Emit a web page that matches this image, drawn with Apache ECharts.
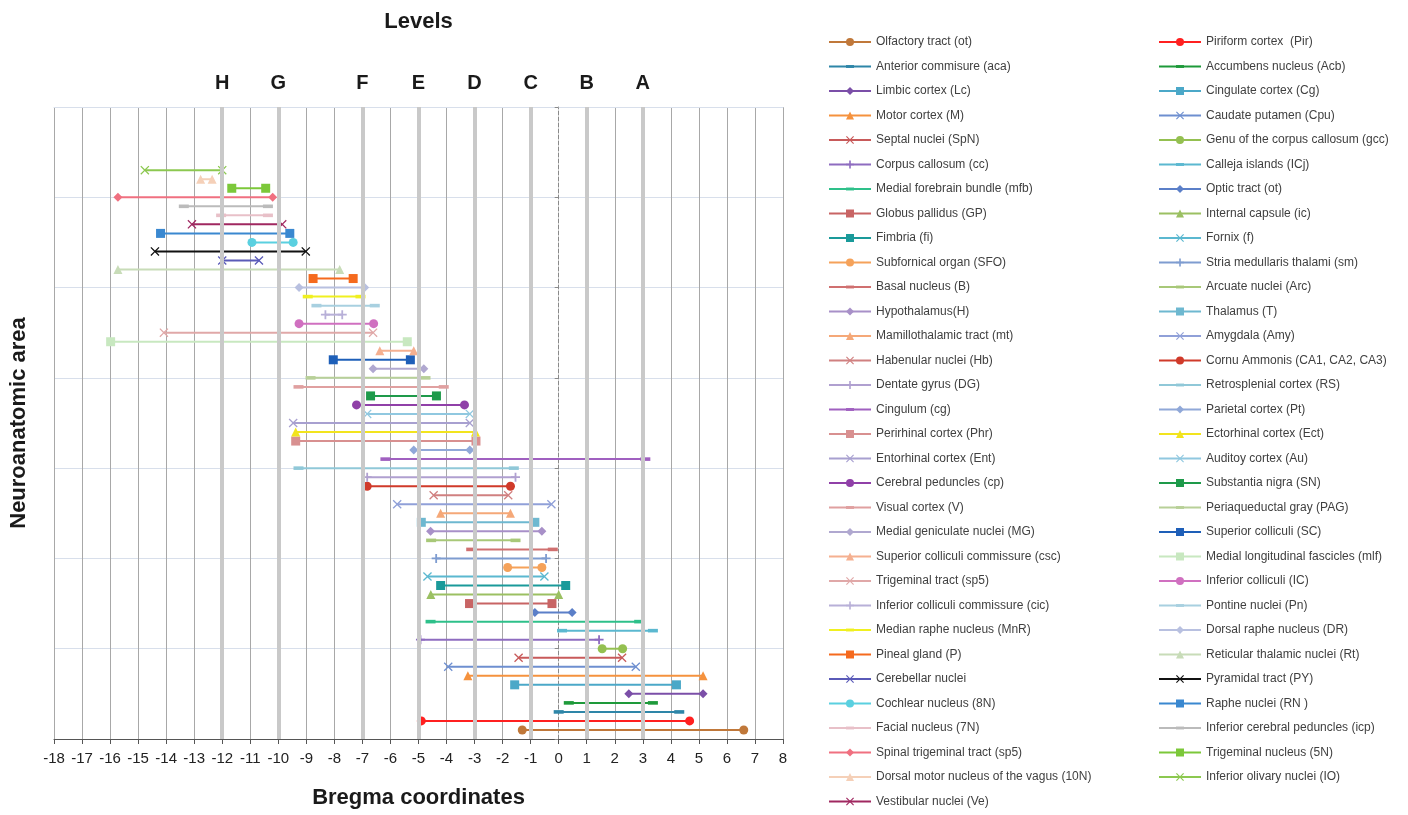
<!DOCTYPE html>
<html>
<head>
<meta charset="utf-8">
<script src="https://cdn.jsdelivr.net/npm/echarts@6/dist/echarts.min.js"></script>
<style>
html,body{margin:0;padding:0;background:#fff;}
#chart{width:1408px;height:815px;}
</style>
</head>
<body>
<div id="chart"></div>
<script>
// ---------------- DATA ----------------
const areaNames = [
  "Olfactory tract (ot)", "Piriform cortex  (Pir)", "Anterior commisure (aca)", "Accumbens nucleus (Acb)",
  "Limbic cortex (Lc)", "Cingulate cortex (Cg)", "Motor cortex (M)", "Caudate putamen (Cpu)",
  "Septal nuclei (SpN)", "Genu of the corpus callosum (gcc)", "Corpus callosum (cc)", "Calleja islands (ICj)",
  "Medial forebrain bundle (mfb)", "Optic tract (ot)", "Globus pallidus (GP)", "Internal capsule (ic)",
  "Fimbria (fi)", "Fornix (f)", "Subfornical organ (SFO)", "Stria medullaris thalami (sm)",
  "Basal nucleus (B)", "Arcuate nuclei (Arc)", "Hypothalamus(H)", "Thalamus (T)",
  "Mamillothalamic tract (mt)", "Amygdala (Amy)", "Habenular nuclei (Hb)", "Cornu Ammonis (CA1, CA2, CA3)",
  "Dentate gyrus (DG)", "Retrosplenial cortex (RS)", "Cingulum (cg)", "Parietal cortex (Pt)",
  "Perirhinal cortex (Phr)", "Ectorhinal cortex (Ect)", "Entorhinal cortex (Ent)", "Auditoy cortex (Au)",
  "Cerebral peduncles (cp)", "Substantia nigra (SN)", "Visual cortex (V)", "Periaqueductal gray (PAG)",
  "Medial geniculate nuclei (MG)", "Superior colliculi (SC)", "Superior colliculi commissure (csc)", "Medial longitudinal fascicles (mlf)",
  "Trigeminal tract (sp5)", "Inferior colliculi (IC)", "Inferior colliculi commissure (cic)", "Pontine nuclei (Pn)",
  "Median raphe nucleus (MnR)", "Dorsal raphe nucleus (DR)", "Pineal gland (P)", "Reticular thalamic nuclei (Rt)",
  "Cerebellar nuclei", "Pyramidal tract (PY)", "Cochlear nucleus (8N)", "Raphe nuclei (RN )",
  "Facial nucleus (7N)", "Inferior cerebral peduncles (icp)", "Spinal trigeminal tract (sp5)", "Trigeminal nucleus (5N)",
  "Dorsal motor nucleus of the vagus (10N)", "Inferior olivary nuclei (IO)", "Vestibular nuclei (Ve)"
];
// Bregma coordinate where each area starts
const startBregma = [
  -1.3, -4.9, 0.0, 0.36, 2.5, -1.57, -3.24, -3.94,
  -1.43, 1.55, -4.93, 0.12, -4.57, -0.85, -3.18, -4.56,
  -4.21, -4.68, -1.82, -4.37, -3.12, -4.55, -4.57, -4.9,
  -4.21, -5.76, -4.46, -6.83, -6.83, -9.28, -6.18, -5.17,
  -9.38, -9.38, -9.47, -6.83, -7.21, -6.71, -9.28, -8.85,
  -6.62, -8.04, -6.38, -15.98, -14.08, -9.26, -8.32, -8.64,
  -8.95, -9.26, -8.76, -15.72, -12.0, -14.4, -10.94, -14.2,
  -12.04, -13.37, -15.72, -11.66, -12.77, -14.76, -13.08
];
// Bregma coordinate where each area ends
const endBregma = [
  6.6, 4.67, 4.3, 3.36, 5.15, 4.2, 5.15, 2.75,
  2.26, 2.28, 1.44, 3.36, 2.87, 0.48, -0.24, 0.0,
  0.25, -0.51, -0.6, -0.45, -0.21, -1.54, -0.6, -0.85,
  -1.72, -0.26, -1.8, -1.72, -1.54, -1.6, 3.09, -3.17,
  -2.95, -2.97, -3.17, -3.17, -3.36, -4.36, -4.1, -4.75,
  -4.81, -5.29, -5.17, -5.4, -6.62, -6.6, -7.72, -6.56,
  -7.07, -6.92, -7.33, -7.81, -10.69, -9.02, -9.47, -9.59,
  -10.37, -10.37, -10.2, -10.45, -12.36, -12.0, -9.86
];
// Row of each area on the neuroanatomic-area axis
const areaRow = [
  1, 2, 3, 4, 5, 6, 7, 8, 9, 10, 11, 12, 13, 14, 15, 16,
  17, 18, 19, 20, 21, 22, 23, 24, 25, 26, 27, 28, 29, 30, 31, 32,
  33, 34, 35, 36, 37, 38, 39, 40, 41, 42, 43, 44, 45, 46, 47, 48,
  49, 50, 51, 52, 53, 54, 55, 56, 58, 59, 60, 61, 62, 63, 57
];
// Level letters and their Bregma positions
const levelLetters = ["H", "G", "F", "E", "D", "C", "B", "A"];
const levelBregma = [-12, -10, -7, -5, -3, -1, 1, 3];
// x-axis tick range
const xMin = -18, xMax = 8;

// ---------------- STYLES ----------------
const X = 'path://M1,0L5,4L9,0L10,1L6,5L10,9L9,10L5,6L1,10L0,9L4,5L0,1Z';
const PLUS = 'path://M4,0H6V4H10V6H6V10H4V6H0V4H4Z';
// short horizontal dash inside a square box (the two moveTo points fix the box)
const DASH = 'path://M0,0M10,10M0,3.2H10V6.8H0Z';
const seriesColor = [
  '#c0783a', '#ff2020', '#2e86a8', '#1e9a3a', '#7b4fa8', '#4ba8c8', '#f5923e', '#6e8fd0',
  '#c85a5a', '#94c050', '#8e6cc0', '#5bb8d0', '#2ec08a', '#5b7fc8', '#c86464', '#9bc062',
  '#1a9a9a', '#5bb8d0', '#f5a25a', '#7e9cd0', '#d07070', '#a8c878', '#a890c8', '#6eb8d0',
  '#f5a878', '#90a0d8', '#d08080', '#d03a2a', '#b0a0d0', '#90c8d8', '#a060c0', '#90a8d8',
  '#d89090', '#f2e41e', '#a8a0d0', '#90c8e0', '#9040a8', '#1e9a4a', '#e0a0a0', '#b8d098',
  '#b0a8d0', '#1e5fb8', '#f5b090', '#c8e8c0', '#e0a8a8', '#d070c0', '#b8b0d8', '#a8d0e0',
  '#f0f020', '#b8c0e0', '#f56a1e', '#c8dcb8', '#5a5ab8', '#111111', '#5ad0e0', '#3a88d0',
  '#e8c0c8', '#bbbbbb', '#f07080', '#7cc83a', '#f5d0b8', '#8cc850', '#a02860'
];
const seriesSymbol = [
  'circle', 'circle', DASH, DASH, 'diamond', 'rect', 'triangle', X,
  X, 'circle', PLUS, DASH, DASH, 'diamond', 'rect', 'triangle',
  'rect', X, 'circle', PLUS, DASH, DASH, 'diamond', 'rect',
  'triangle', X, X, 'circle', PLUS, DASH, DASH, 'diamond',
  'rect', 'triangle', X, X, 'circle', 'rect', DASH, DASH,
  'diamond', 'rect', 'triangle', 'rect', X, 'circle', PLUS, DASH,
  DASH, 'diamond', 'rect', 'triangle', X, X, 'circle', 'rect',
  DASH, DASH, 'diamond', 'rect', 'triangle', X, X
];

const FONT = '"Liberation Sans", Arial, sans-serif';

const series = areaNames.map((name, i) => {
  const sym = seriesSymbol[i];
  const isDash = sym === DASH;
  return {
    name: name,
    type: 'line',
    xAxisIndex: 0,
    yAxisIndex: 0,
    data: [[startBregma[i], areaRow[i]], [endBregma[i], areaRow[i]]],
    symbol: sym,
    symbolSize: isDash ? 10 : 9,
    showSymbol: true,
    lineStyle: { width: 2, color: seriesColor[i] },
    itemStyle: { color: seriesColor[i] },
    emphasis: { disabled: true },
    animation: false,
    z: 3
  };
});

// level guide lines (thick light gray verticals)
series.push({
  name: '__levels',
  type: 'line',
  data: [],
  silent: true,
  z: 1,
  markLine: {
    silent: true,
    symbol: ['none', 'none'],
    label: { show: false },
    lineStyle: { color: '#c9c9c9', width: 4, type: 'solid' },
    data: levelBregma.map(v => ({ xAxis: v }))
  }
});

// vertical split line colours: none at x = 0 (the dashed axis is there)
const vLineColors = [];
for (let v = xMin; v <= xMax; v++) vLineColors.push(v === 0 ? 'rgba(0,0,0,0)' : '#a8a8a8');

const legendItems0 = areaNames.filter((_, i) => i % 2 === 0);
const legendItems1 = areaNames.filter((_, i) => i % 2 === 1);
const legendCommon = {
  orient: 'vertical',
  itemWidth: 42,
  itemHeight: 10,
  itemGap: 10.5,
  padding: 0,
  height: 780,
  textStyle: { fontFamily: FONT, fontSize: 12, color: '#404040', lineHeight: 14 },
  selectedMode: false
};

const option = {
  backgroundColor: '#fff',
  animation: false,
  grid: { left: 53, right: 625, top: 107, bottom: 76, containLabel: false },
  legend: [
    Object.assign({ left: 828, top: 35, data: legendItems0 }, legendCommon),
    Object.assign({ left: 1158, top: 35, data: legendItems1 }, legendCommon)
  ],
  xAxis: [
    {
      type: 'value', position: 'bottom', min: xMin, max: xMax, interval: 1,
      name: 'Bregma coordinates', nameLocation: 'middle', nameGap: 48,
      nameTextStyle: { fontFamily: FONT, fontSize: 22, fontWeight: 'bold', color: '#1a1a1a' },
      axisLine: { onZero: false, lineStyle: { color: '#555', width: 1 } },
      axisTick: { show: true, length: 5, lineStyle: { color: '#555' } },
      axisLabel: { fontFamily: FONT, fontSize: 15, color: '#222', margin: 12 },
      splitLine: { show: true, lineStyle: { color: vLineColors, width: 1 } }
    },
    {
      type: 'value', position: 'top', min: xMin, max: xMax, interval: 1,
      name: 'Levels', nameLocation: 'middle', nameGap: 74,
      nameTextStyle: { fontFamily: FONT, fontSize: 22, fontWeight: 'bold', color: '#1a1a1a' },
      axisLine: { show: true, onZero: false, lineStyle: { color: '#d8dfeb', width: 1 } },
      axisTick: { show: false },
      axisLabel: {
        fontFamily: FONT, fontSize: 20, fontWeight: 'bold', color: '#1a1a1a', margin: 14,
        formatter: function (v) {
          const k = levelBregma.indexOf(v);
          return k >= 0 ? levelLetters[k] : '';
        }
      },
      splitLine: { show: false }
    }
  ],
  yAxis: [
    {
      type: 'value', min: 0, max: 70, interval: 10, position: 'left',
      name: 'Neuroanatomic area', nameLocation: 'middle', nameGap: 24,
      nameTextStyle: { fontFamily: FONT, fontSize: 22, fontWeight: 'bold', color: '#1a1a1a' },
      axisLine: { show: false, onZero: false },
      axisTick: { show: false },
      axisLabel: { show: false },
      splitLine: { show: true, lineStyle: { color: '#d8dfeb', width: 1 } }
    },
    {
      type: 'value', min: 0, max: 70, interval: 10, position: 'left',
      axisLine: { show: true, onZero: true, lineStyle: { color: '#8a8a8a', width: 1, type: 'dashed' } },
      axisTick: { show: true, length: 4, lineStyle: { color: '#8a8a8a' } },
      axisLabel: { show: false },
      splitLine: { show: false }
    }
  ],
  series: series
};

const chart = echarts.init(document.getElementById('chart'), null, { renderer: 'canvas' });
chart.setOption(option);
</script>
</body>
</html>
